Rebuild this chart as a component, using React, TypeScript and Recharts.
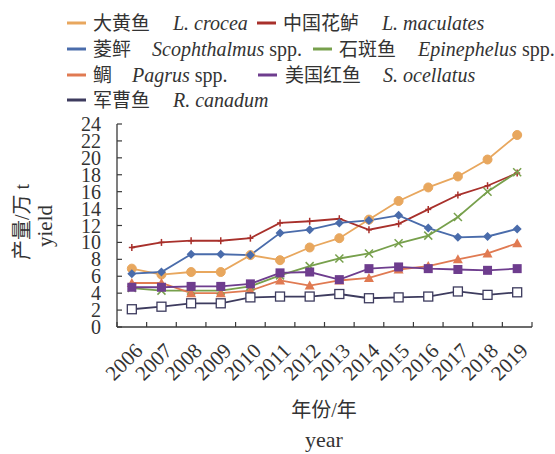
import React from 'react';
import { LineChart, Line, XAxis, YAxis } from 'recharts';

// 产量 (万 t)
const years = [2006, 2007, 2008, 2009, 2010, 2011, 2012, 2013, 2014, 2015, 2016, 2017, 2018, 2019];
const crocea = [6.9, 6.2, 6.5, 6.5, 8.5, 7.9, 9.4, 10.5, 12.7, 14.9, 16.5, 17.8, 19.8, 22.7];
const maculates = [9.4, 10.0, 10.2, 10.2, 10.5, 12.3, 12.5, 12.8, 11.5, 12.2, 13.9, 15.6, 16.7, 18.2];
const scophthalmus = [6.3, 6.5, 8.6, 8.6, 8.5, 11.1, 11.5, 12.3, 12.6, 13.2, 11.7, 10.6, 10.7, 11.6];
const epinephelus = [4.6, 4.3, 4.3, 4.3, 4.8, 6.1, 7.2, 8.1, 8.7, 9.9, 10.8, 13.0, 16.0, 18.3];
const pagrus = [5.2, 5.2, 4.0, 4.0, 4.3, 5.5, 4.9, 5.5, 5.8, 6.8, 7.2, 8.0, 8.7, 9.9];
const ocellatus = [4.7, 4.7, 4.8, 4.8, 5.1, 6.4, 6.5, 5.6, 6.9, 7.1, 6.9, 6.8, 6.7, 6.9];
const canadum = [2.1, 2.4, 2.8, 2.8, 3.5, 3.6, 3.6, 3.9, 3.4, 3.5, 3.6, 4.2, 3.8, 4.1];

const yTicks = [0, 2, 4, 6, 8, 10, 12, 14, 16, 18, 20, 22, 24];

const seriesKeys = ['crocea', 'maculates', 'scophthalmus', 'epinephelus', 'pagrus', 'ocellatus', 'canadum'];
const cnNames = ['大黄鱼', '中国花鲈', '菱鲆', '石斑鱼', '鲷', '美国红鱼', '军曹鱼'];
const latinNames = ['L. crocea', 'L. maculates', 'Scophthalmus', 'Epinephelus', 'Pagrus', 'S. ocellatus', 'R. canadum'];
const hasSpp = [false, false, true, true, true, false, false];

const colors = ['#E8A75E', '#A8302B', '#4A6CAB', '#77A04C', '#E07A52', '#6E3D8E', '#3D3B5E'];
const markers = ['circle', 'plus', 'diamond', 'cross', 'triangle', 'square', 'openSquare'];

const data = years.map((year, i) => ({
  year,
  crocea: crocea[i],
  maculates: maculates[i],
  scophthalmus: scophthalmus[i],
  epinephelus: epinephelus[i],
  pagrus: pagrus[i],
  ocellatus: ocellatus[i],
  canadum: canadum[i],
}));

// layout
const W = 555;
const H = 454;
const PLOT_LEFT = 117;
const PLOT_RIGHT = 532;
const PLOT_TOP = 124;
const PLOT_BOTTOM = 327;
const SERIF = "'Liberation Serif', 'Noto Sans CJK SC', serif";
const AXIS_COLOR = '#3a3a3a';

const xBoundaries = [...years.map(y => y - 0.5), years[years.length - 1] + 0.5];
const xTicks = [...xBoundaries, ...years].sort((a, b) => a - b);

// legend placement: [markerX, cnX, latinX, rowY]
const legendPos = [
  [67, 93, 173, 23],
  [257, 283, 382, 23],
  [67, 93, 152, 49],
  [313, 339, 418, 49],
  [67, 93, 132, 75],
  [258, 285, 383, 75],
  [67, 93, 173, 100],
];

function makeDot(kind: string, color: string) {
  return (props: any) => {
    const { cx, cy, index } = props;
    if (cx == null || cy == null) return <g key={index} />;
    const s = 4.5;
    switch (kind) {
      case 'circle':
        return <circle key={index} cx={cx} cy={cy} r={4.5} fill={color} stroke={color} />;
      case 'plus':
        return (
          <g key={index} stroke={color} strokeWidth={1.5}>
            <line x1={cx - 3} x2={cx + 3} y1={cy} y2={cy} />
            <line x1={cx} x2={cx} y1={cy - 3.5} y2={cy + 3.5} />
          </g>
        );
      case 'diamond':
        return <polygon key={index} points={`${cx},${cy - s} ${cx + s},${cy} ${cx},${cy + s} ${cx - s},${cy}`} fill={color} />;
      case 'cross':
        return (
          <g key={index} stroke={color} strokeWidth={1.5}>
            <line x1={cx - 4} x2={cx + 4} y1={cy - 4} y2={cy + 4} />
            <line x1={cx - 4} x2={cx + 4} y1={cy + 4} y2={cy - 4} />
          </g>
        );
      case 'triangle':
        return <polygon key={index} points={`${cx},${cy - 5} ${cx + 5},${cy + 4} ${cx - 5},${cy + 4}`} fill={color} />;
      case 'square':
        return <rect key={index} x={cx - 4.5} y={cy - 4.5} width={9} height={9} fill={color} />;
      default:
        return <rect key={index} x={cx - 4.5} y={cy - 4.5} width={9} height={9} fill="#fff" stroke={color} strokeWidth={1.3} />;
    }
  };
}

const XTick = (props: any) => {
  const { x, payload } = props;
  const v = payload.value;
  if (!Number.isInteger(v)) {
    return <line x1={x} x2={x} y1={PLOT_BOTTOM} y2={PLOT_BOTTOM - 5} stroke={AXIS_COLOR} strokeWidth={1.2} />;
  }
  const ax = x + 12;
  const ay = 352;
  return (
    <text x={ax} y={ay} transform={`rotate(-45 ${ax} ${ay})`} textAnchor="end" fontSize={21} fontFamily={SERIF} fill="#333">
      {v}
    </text>
  );
};

const YTick = (props: any) => {
  const { y, payload } = props;
  return (
    <g>
      <line x1={PLOT_LEFT} x2={PLOT_LEFT + 5} y1={y} y2={y} stroke={AXIS_COLOR} strokeWidth={1.2} />
      <text x={101} y={y} dy="0.35em" textAnchor="end" fontSize={20} fontFamily={SERIF} fill="#333">
        {payload.value}
      </text>
    </g>
  );
};

export default function App() {
  return (
    <div style={{ position: 'absolute', left: 0, top: 0, width: W, height: H, background: '#fff' }}>
      <LineChart
        width={W}
        height={H}
        data={data}
        margin={{ top: PLOT_TOP, right: W - PLOT_RIGHT, bottom: H - PLOT_BOTTOM - 30, left: PLOT_LEFT - 60 }}
      >
        <XAxis
          dataKey="year"
          type="number"
          domain={[xBoundaries[0], xBoundaries[xBoundaries.length - 1]]}
          ticks={xTicks}
          interval={0}
          allowDecimals
          height={30}
          tickLine={false}
          tick={<XTick />}
          axisLine={{ stroke: AXIS_COLOR, strokeWidth: 1.3 }}
        />
        <YAxis
          type="number"
          domain={[0, 24]}
          ticks={yTicks}
          interval={0}
          width={60}
          tickLine={false}
          tick={<YTick />}
          axisLine={{ stroke: AXIS_COLOR, strokeWidth: 1.3 }}
        />
        {seriesKeys.map((key, i) => (
          <Line
            key={key}
            dataKey={key}
            type="linear"
            stroke={colors[i]}
            strokeWidth={1.8}
            dot={makeDot(markers[i], colors[i])}
            activeDot={false}
            isAnimationActive={false}
          />
        ))}
      </LineChart>

      <svg width={W} height={H} style={{ position: 'absolute', left: 0, top: 0, pointerEvents: 'none' }}>
        {legendPos.map(([mx, cx, lx, ry], i) => (
          <g key={seriesKeys[i]}>
            <line x1={mx} x2={mx + 19} y1={ry} y2={ry} stroke={colors[i]} strokeWidth={3} />
            <text x={cx} y={ry} dy="0.36em" fontSize={19} fontFamily={SERIF} fill="#333">
              {cnNames[i]}
            </text>
            <text x={lx} y={ry} dy="0.33em" fontSize={20} fontFamily={SERIF} fill="#333">
              <tspan fontStyle="italic">{latinNames[i]}</tspan>
              {hasSpp[i] ? ' spp.' : ''}
            </text>
          </g>
        ))}
        <text x={22} y={222} transform="rotate(-90 22 222)" textAnchor="middle" dominantBaseline="central" fontSize={20} fontFamily={SERIF} fill="#333">
          产量/万 t
        </text>
        <text x={45} y={226} transform="rotate(-90 45 226)" textAnchor="middle" dominantBaseline="central" fontSize={21} fontFamily={SERIF} fill="#333">
          yield
        </text>
        <text x={324} y={410} textAnchor="middle" dominantBaseline="central" fontSize={20} fontFamily={SERIF} fill="#333">
          年份/年
        </text>
        <text x={324} y={439} textAnchor="middle" dominantBaseline="central" fontSize={22} fontFamily={SERIF} fill="#333">
          year
        </text>
      </svg>
    </div>
  );
}
